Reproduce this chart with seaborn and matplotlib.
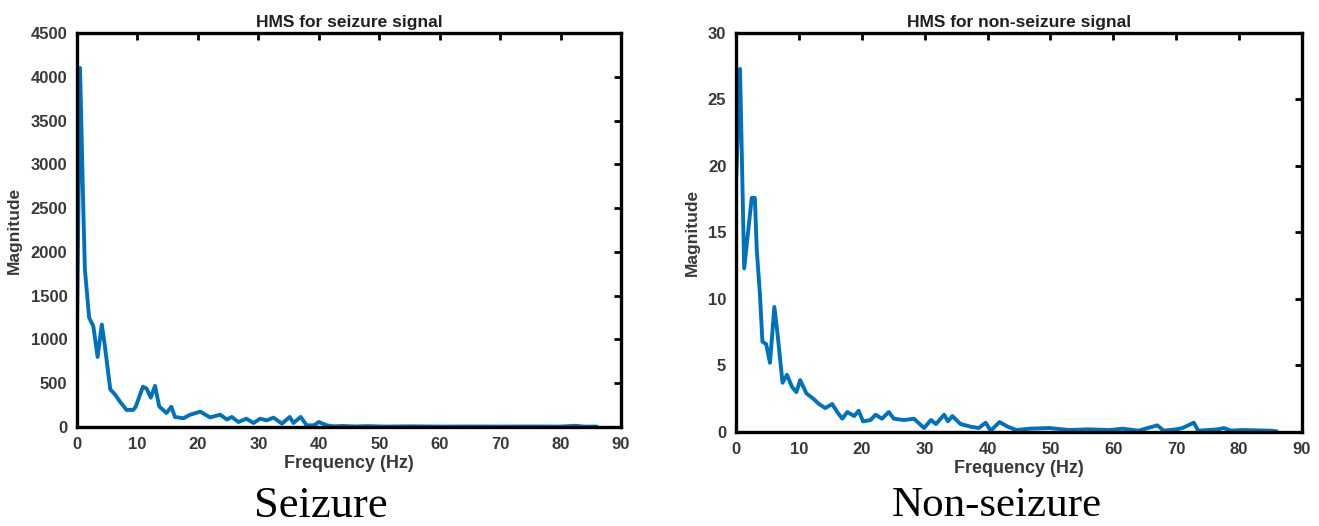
import matplotlib
matplotlib.use("Agg")
import matplotlib.pyplot as plt
import seaborn as sns
import pandas as pd

# ---- data ----
seizure_freq = [0.0, 0.5, 1.0, 1.3, 2.0, 2.7, 3.4, 4.1, 4.6, 5.5, 6.3, 7.1, 8.2, 9.3, 9.7,
                10.9, 11.5, 12.2, 12.9, 13.6, 14.8, 15.6, 16.2, 17.6, 18.7, 20.4, 22.0,
                23.7, 24.8, 25.6, 26.7, 28.0, 29.2, 30.3, 31.4, 32.5, 33.9, 35.2, 35.8,
                37.0, 38.0, 39.2, 40.0, 41.3, 42.4, 44.0, 46.0, 48.0, 51.0, 55.0, 60.0,
                65.0, 70.0, 75.0, 80.0, 82.5, 84.0, 86.0]
seizure_mag = [1150, 4100, 2600, 1800, 1250, 1150, 800, 1170, 930, 430, 370, 290, 195, 195, 230,
               460, 440, 335, 470, 235, 160, 230, 115, 100, 140, 175, 110,
               140, 85, 115, 57, 95, 46, 95, 76, 107, 38, 115, 46,
               115, 19, 19, 57, 19, 8, 12, 6, 10, 5, 8, 5,
               6, 5, 6, 5, 14, 4, 5]

nonseizure_freq = [0.0, 0.64, 1.3, 2.5, 3.0, 3.3, 3.8, 4.2, 4.8, 5.4, 6.1, 6.6, 7.4, 8.1,
                   8.9, 9.6, 10.2, 11.2, 12.3, 13.2, 14.2, 15.3, 16.1, 16.9, 17.7, 18.8,
                   19.5, 20.2, 21.4, 22.2, 23.2, 24.3, 25.1, 26.7, 28.3, 29.9, 31.0, 31.8,
                   33.1, 33.7, 34.4, 35.7, 37.3, 38.6, 39.7, 40.5, 41.9, 43.2, 44.6, 46.7,
                   49.8, 53.0, 56.0, 59.4, 61.5, 64.0, 67.0, 68.0, 70.0, 71.0, 72.8, 73.5,
                   76.6, 77.6, 78.7, 80.4, 85.0, 86.0]
nonseizure_mag = [18.7, 27.3, 12.3, 17.6, 17.6, 13.7, 10.4, 6.8, 6.6, 5.2, 9.4, 7.4, 3.7, 4.3,
                  3.4, 3.0, 3.9, 2.9, 2.5, 2.1, 1.8, 2.1, 1.5, 1.0, 1.5, 1.2,
                  1.6, 0.8, 0.9, 1.3, 1.0, 1.5, 1.0, 0.9, 1.0, 0.3, 0.9, 0.6,
                  1.3, 0.8, 1.2, 0.6, 0.4, 0.3, 0.7, 0.1, 0.75, 0.4, 0.15, 0.25,
                  0.3, 0.15, 0.2, 0.15, 0.25, 0.1, 0.5, 0.1, 0.2, 0.3, 0.7, 0.1,
                  0.2, 0.3, 0.1, 0.15, 0.1, 0.05]

titles = ["HMS for seizure signal", "HMS for non-seizure signal"]
captions = ["Seizure", "Non-seizure"]
x_ticks = [0, 10, 20, 30, 40, 50, 60, 70, 80, 90]
y_ticks_left = [0, 500, 1000, 1500, 2000, 2500, 3000, 3500, 4000, 4500]
y_ticks_right = [0, 5, 10, 15, 20, 25, 30]

sns.set_style("white")
plt.rcParams["font.family"] = ["Liberation Sans", "DejaVu Sans"]

fig = plt.figure(figsize=(13.19, 5.26), dpi=100)
ax1 = fig.add_axes([0.0584, 0.1882, 0.4124, 0.7491])
ax2 = fig.add_axes([0.5580, 0.1787, 0.4291, 0.7586])

line_color = "#0072BD"
tick_color = "#383838"

specs = [
    (ax1, seizure_freq, seizure_mag, y_ticks_left, (0, 4500)),
    (ax2, nonseizure_freq, nonseizure_mag, y_ticks_right, (0, 30)),
]
for i, (ax, fx, my, yt, ylim) in enumerate(specs):
    df = pd.DataFrame({"Frequency": fx, "Magnitude": my})
    sns.lineplot(data=df, x="Frequency", y="Magnitude", ax=ax, color=line_color,
                 linewidth=2.8, sort=False)
    ax.set_xlim(0, 90)
    ax.set_ylim(*ylim)
    ax.set_xticks(x_ticks)
    ax.set_yticks(yt)
    for s in ax.spines.values():
        s.set_visible(True)
        s.set_color("black")
        s.set_linewidth(2.4)
    ax.tick_params(direction="in", length=5, width=2.0, top=True, right=True,
                   colors="black", labelcolor=tick_color, labelsize=12, pad=7)
    for lab in ax.get_xticklabels() + ax.get_yticklabels():
        lab.set_fontweight("bold")
    ax.set_xlabel("Frequency (Hz)", fontsize=13, fontweight="bold", color=tick_color,
                  labelpad=2)
    ax.set_ylabel("Magnitude", fontsize=12.5, fontweight="bold", color=tick_color,
                  labelpad=6)
    ax.set_title(titles[i], fontsize=12.5, fontweight="bold", color="#202020", pad=4)
    ax.grid(False)

fig.text(0.243, 0.038, captions[0], ha="center", va="center", fontsize=32,
         family=["Liberation Serif", "DejaVu Serif"], color="black")
fig.text(0.756, 0.038, captions[1], ha="center", va="center", fontsize=31,
         family=["Liberation Serif", "DejaVu Serif"], color="black")

fig.savefig("out.png", dpi=100, facecolor="white")
